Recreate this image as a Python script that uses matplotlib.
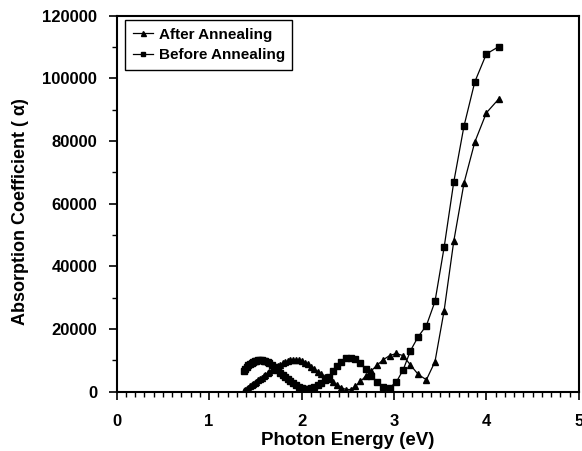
import matplotlib
matplotlib.use("Agg")
import matplotlib.pyplot as plt
from matplotlib.ticker import MultipleLocator

plt.rcParams['font.family'] = ['Liberation Sans', 'DejaVu Sans']
plt.rcParams['font.weight'] = 'bold'

energy = [1.378, 1.393, 1.409, 1.425, 1.442, 1.459, 1.476, 1.494, 1.512, 1.531,
          1.550, 1.570, 1.590, 1.610, 1.632, 1.653, 1.676, 1.699, 1.722, 1.746,
          1.771, 1.797, 1.824, 1.851, 1.879, 1.908, 1.938, 1.968, 2.000, 2.033,
          2.067, 2.102, 2.138, 2.175, 2.214, 2.255, 2.296, 2.340, 2.385, 2.431,
          2.480, 2.531, 2.583, 2.638, 2.696, 2.756, 2.818, 2.884, 2.952, 3.024,
          3.100, 3.179, 3.263, 3.351, 3.444, 3.543, 3.647, 3.758, 3.875, 4.000,
          4.133]

after_annealing = [300, 600, 1000, 1300, 1700, 2000, 2400, 2800, 3200, 3700,
                   4100, 4500, 5000, 5400, 5900, 6300, 6800, 7200, 7600, 8100,
                   8600, 9000, 9400, 9800, 10100, 10200, 10200, 10000, 9700, 9300,
                   8700, 8000, 7200, 6400, 5600, 4800, 4000, 3000, 2100, 1300,
                   700, 700, 1700, 3300, 5000, 6700, 8500, 10200, 11500, 12200,
                   11500, 8500, 5500, 3800, 9600, 25900, 48000, 66600, 79700, 89000,
                   93400]

before_annealing = [6700, 7300, 7900, 8400, 8800, 9200, 9500, 9700, 9900, 10000,
                    10000, 10000, 9900, 9700, 9400, 9000, 8500, 7900, 7400, 6800,
                    6100, 5400, 4700, 4000, 3300, 2700, 2100, 1600, 1200, 1000,
                    1000, 1200, 1600, 2200, 2900, 3700, 4800, 6600, 8300, 9600,
                    10600, 10800, 10300, 9000, 7300, 5100, 3100, 1600, 1300, 3000,
                    7000, 13100, 17600, 21100, 28800, 46100, 66900, 84800, 98900, 107800,
                    110100]

series_labels = ["After Annealing", "Before Annealing"]
x_label = "Photon Energy (eV)"
y_label = "Absorption Coefficient ( \u03b1)"

fig = plt.figure(figsize=(5.82, 4.51), dpi=100)
ax = fig.add_axes([0.2005, 0.1315, 0.794, 0.8337])

ax.plot(energy, after_annealing, color='black', lw=0.9, marker='^', ms=4.5,
        mfc='black', mec='black', label=series_labels[0])
ax.plot(energy, before_annealing, color='black', lw=0.9, marker='s', ms=4,
        mfc='black', mec='black', label=series_labels[1])

ax.set_xlim(0, 5)
ax.set_ylim(0, 120000)
ax.xaxis.set_major_locator(MultipleLocator(1))
ax.xaxis.set_minor_locator(MultipleLocator(0.1))
ax.yaxis.set_major_locator(MultipleLocator(20000))
ax.yaxis.set_minor_locator(MultipleLocator(10000))
ax.tick_params(which='major', direction='out', length=6, width=1.2, labelsize=12)
ax.tick_params(which='minor', direction='out', length=3.5, width=1.0)
ax.tick_params(axis='x', which='major', pad=10)
ax.tick_params(axis='y', which='major', pad=8)
for lab in ax.get_xticklabels() + ax.get_yticklabels():
    lab.set_fontweight('bold')
for sp in ax.spines.values():
    sp.set_linewidth(1.5)

ax.set_xlabel(x_label, fontsize=13.5, fontweight='bold', labelpad=2)
ax.set_ylabel(y_label, fontsize=13, fontweight='bold')
ax.yaxis.set_label_coords(-0.19, 0.48)

leg = ax.legend(loc='upper left', bbox_to_anchor=(0.018, 0.9886), borderaxespad=0,
                frameon=True, fancybox=False, edgecolor='black', framealpha=1,
                handlelength=1.3, handletextpad=0.4, borderpad=0.5,
                labelspacing=0.45, markerscale=0.8, prop={'weight': 'bold', 'size': 11})
leg.get_frame().set_linewidth(1.0)

fig.savefig("out.png", dpi=100)
